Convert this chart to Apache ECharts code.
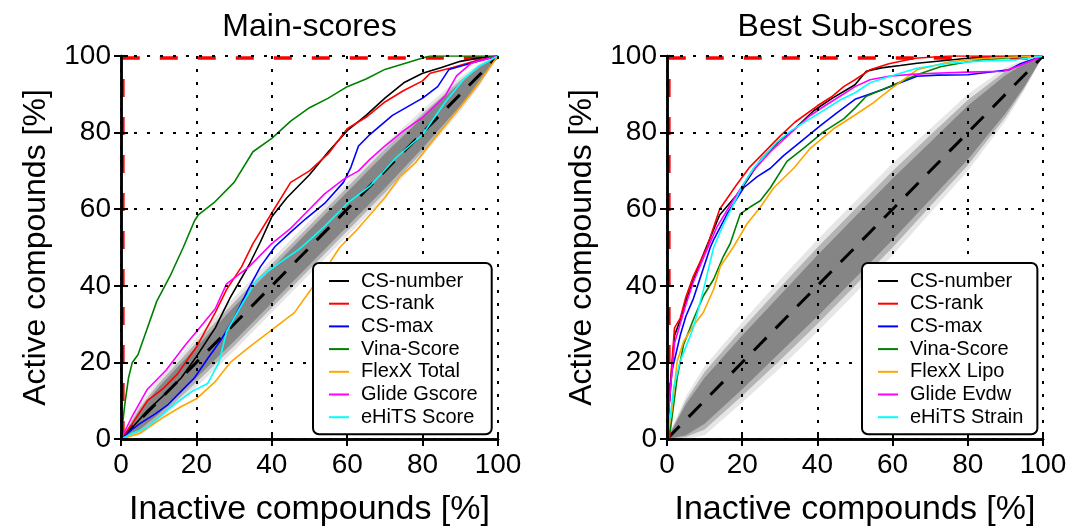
<!DOCTYPE html>
<html>
<head>
<meta charset="utf-8">
<script src="https://cdn.jsdelivr.net/npm/echarts@6/dist/echarts.min.js"></script>
<style>
html, body { margin: 0; padding: 0; background: #fff; }
#main { width: 1075px; height: 532px; }
</style>
</head>
<body>
<div id="main"></div>
<script>
// ROC curves, values in percent

// left panel: main scores
var mainNames = ["CS-number", "CS-rank", "CS-max", "Vina-Score", "FlexX Total", "Glide Gscore", "eHiTS Score"];
var blackLX = [0, 3, 7, 12, 16, 20, 25, 29, 34, 37, 40, 44, 50, 55, 60, 65, 70, 75, 80, 85, 90, 95, 100];
var blackLY = [0, 3, 7.4, 12, 16, 21.5, 29, 37, 45.5, 51.5, 58, 63, 69, 75, 80.5, 84.5, 89, 93, 95.5, 97, 98.6, 99.5, 100];
var redLX = [0, 3, 7, 11, 15, 20, 25, 28, 32, 35, 40, 45, 50, 55, 60, 65, 70, 75, 80, 82, 88, 95, 100];
var redLY = [0, 4, 10, 13, 17, 24, 33, 39, 45, 51, 59, 67, 70, 74.5, 81, 84, 88, 91, 93.5, 95.5, 97, 99, 100];
var blueLX = [0, 2, 5, 9, 12.5, 16, 19.5, 23, 26.6, 30, 33.7, 37, 40.8, 45, 49, 54, 59, 61, 63, 66, 72, 80, 84, 87, 93, 100];
var blueLY = [0, 1.8, 4, 6.5, 9, 12.5, 16, 21, 26, 31.5, 39, 45, 50.2, 54, 57.5, 61.5, 67, 71, 76.5, 79.5, 84.5, 89, 92, 96.5, 98.2, 100];
var greenLX = [0, 1, 2, 3, 4.5, 7, 9.5, 13, 16.5, 19.5, 20.5, 25, 30, 35, 40, 45, 50, 55, 60, 65, 70, 75, 80, 82, 100];
var greenLY = [0, 9, 16, 20, 22, 29, 36, 42.5, 50, 57, 58.5, 62, 67, 75, 78.5, 83, 86.5, 89, 92, 94, 96.5, 98, 99.5, 100, 100];
var orangeLX = [0, 5, 11, 16, 20, 25, 29, 34, 38, 42, 46, 50, 54, 58, 62, 66, 70, 74, 78, 82, 87, 93, 100];
var orangeLY = [0, 1.5, 5.5, 8.5, 10.5, 15, 20, 24, 27, 30, 33, 38.5, 44, 50, 54, 58.5, 63, 68.5, 72, 77, 83, 90.5, 100];
var magentaLX = [0, 3, 7, 12, 17, 20, 25, 28, 34, 40, 45, 49, 54, 59, 63, 66, 70, 75, 80, 86, 89, 93, 100];
var magentaLY = [0, 6, 13, 18, 24.5, 28, 34, 40.5, 45, 51, 55, 59, 64, 67.8, 70, 73, 76.5, 80.5, 84, 89.6, 94.8, 98.2, 100];
var cyanLX = [0, 3, 7, 14, 19, 23, 26, 28, 32, 36, 42, 47, 49, 54, 60, 66, 73, 80, 86, 91, 95, 100];
var cyanLY = [0, 1.5, 3, 9, 12.5, 14.5, 20, 28, 35, 41.5, 46, 49.4, 51, 55.5, 61.5, 66, 73.5, 79.5, 88, 94, 97.4, 100];

// right panel: best sub-scores
var subNames = ["CS-number", "CS-rank", "CS-max", "Vina-Score", "FlexX Lipo", "Glide Evdw", "eHiTS Strain"];
var blackRX = [0, 0.5, 1, 2, 3.5, 5, 7, 10, 14, 19.5, 25, 30, 34, 39, 44, 50, 53, 57, 62, 66.5, 80, 90, 100];
var blackRY = [0, 9, 15, 27, 31, 36, 41.5, 49, 58.5, 64.8, 73, 78, 81, 85.7, 89, 92.5, 96, 96.9, 97.5, 98.1, 99.4, 99.8, 100];
var redRX = [0, 0.5, 1, 2, 3.5, 5, 7, 10.6, 14, 18.6, 22, 25, 30, 34, 40, 44, 47, 50, 54, 59, 66, 75, 100];
var redRY = [0, 10, 16, 29, 31.5, 37, 42.5, 50, 60, 66.5, 71, 74, 79, 82.7, 87, 89.5, 92, 93.8, 96.4, 98, 99.4, 100, 100];
var blueRX = [0, 0.5, 1.3, 3.5, 5, 7, 11.5, 12.4, 16, 20.4, 24, 27.5, 31, 35.5, 40.8, 45, 50, 57.6, 62, 66.5, 72, 80, 91, 94, 100];
var blueRY = [0, 8, 17.7, 27, 32, 36.6, 50, 52, 58.8, 65.6, 68.5, 70.7, 74, 77.6, 81.8, 85, 88.7, 91.3, 93, 94.7, 95, 95.1, 96.4, 98, 100];
var greenRX = [0, 0.9, 2.7, 4.4, 7.1, 9.7, 12.4, 15, 16.8, 19.5, 22, 24.8, 27.5, 31.9, 36.3, 41.6, 47, 50, 53, 59.4, 66.5, 72.7, 80, 90, 100];
var greenRY = [0, 2.4, 16, 24.6, 31.4, 37.4, 41.7, 47.7, 51, 58.8, 60.5, 62.2, 65.6, 72.5, 75.9, 80.2, 83.6, 86.4, 89.5, 92.1, 95.1, 97.2, 98.5, 99.5, 100];
var orangeRX = [0, 1.3, 2.7, 4.4, 7.1, 9.7, 12.4, 14.2, 17.7, 21.3, 24.8, 28.4, 33.7, 38.1, 44.3, 50, 54.9, 59.4, 66.5, 75.3, 84, 100];
var orangeRY = [0, 7.5, 20.3, 25.4, 29.7, 33.1, 39.1, 45.1, 50.2, 56.2, 60.5, 65.6, 70.7, 75.9, 81, 84.6, 87.8, 91.3, 96.4, 98.5, 99.4, 100];
var magentaRX = [0, 0.5, 1, 2, 3.5, 5, 7, 10, 13.3, 18, 22, 27.5, 33, 38, 42, 46, 50, 54, 59, 65, 71, 80, 89.5, 93, 100];
var magentaRY = [0, 8, 14, 25, 30, 35, 41, 48, 55.4, 63, 69, 75, 80, 84.4, 87, 89.5, 92, 93.8, 94.7, 95.2, 95.5, 95.8, 96, 97.2, 100];
var cyanRX = [0, 1, 1.8, 3.5, 5, 7, 9.7, 12.4, 15, 17.7, 20, 23, 26, 29.3, 33, 38, 42, 46, 50, 54, 59.4, 66.5, 75, 85, 93, 100];
var cyanRY = [0, 7, 13.5, 20.3, 24, 29, 39, 50, 56, 61.3, 66, 70.7, 74, 77.6, 80.5, 83.6, 86, 88.5, 90.4, 93, 94.7, 96.8, 98.1, 98.8, 99, 100];

// random-ranking spread (grey band) around the diagonal: lower / upper edges
var bandX = [0, 5, 10, 20, 30, 40, 50, 60, 70, 80, 90, 95, 100];
var darkLLo = [0, 2.5, 6.5, 16, 25.5, 35.5, 45.5, 55.5, 65.5, 76, 87, 93, 100];
var darkLHi = [0, 7.5, 13.5, 24, 34.5, 44.5, 54.5, 64.5, 74.5, 84, 93, 97, 100];
var midLLo = [0, 1.8, 5.5, 14.8, 24.3, 34.3, 44.3, 54.3, 64.3, 75, 86.3, 92.5, 100];
var midLHi = [0, 8.2, 14.5, 25.2, 35.7, 45.7, 55.7, 65.7, 75.7, 85, 93.7, 97.5, 100];
var lightLLo = [0, 1, 4.5, 13.5, 23, 33, 43, 53, 63, 74, 85.5, 92, 100];
var lightLHi = [0, 9, 15.5, 26.5, 37, 47, 57, 67, 77, 86, 94.5, 98, 100];
var darkRLo = [0, 1, 4, 13, 22.5, 32, 42, 52, 62.5, 73, 85, 92, 100];
var darkRHi = [0, 9, 16, 27, 37.5, 48, 58, 68, 77.5, 87, 95, 98, 100];
var midRLo = [0, 0.5, 2.5, 11.3, 20.5, 30, 40, 50, 60.8, 71.5, 84, 91.5, 100];
var midRHi = [0, 10, 17.5, 28.8, 39.5, 50, 60, 70, 79.3, 88.5, 96, 98.5, 100];
var lightRLo = [0, 0, 1, 9.5, 18.5, 28, 38, 48, 59, 70, 83, 91, 100];
var lightRHi = [0, 11, 19, 30.5, 41.5, 52, 62, 72, 81, 90, 97, 99, 100];

var diagX = [0, 100];
var diagY = [0, 100];
var perfectX = [0.5, 0.5, 100];
var perfectY = [0, 99.5, 99.5];

var colors = ["#000000", "#ff0000", "#0000ff", "#008000", "#ffa500", "#ff00ff", "#00ffff"];
var font = "Liberation Sans";

function pairs(xs, ys) {
    return xs.map(function (x, i) { return [x, ys[i]]; });
}

function curve(name, xs, ys, color, ax) {
    return {
        name: name, type: "line", xAxisIndex: ax, yAxisIndex: ax,
        data: pairs(xs, ys), symbol: "none", showSymbol: false,
        lineStyle: {color: color, width: 1.6}, itemStyle: {color: color},
        z: 2
    };
}

// grey band as a polygon: upper edge forward, lower edge back
function band(lo, hi, color, ax) {
    var outline = pairs(bandX, hi).concat(pairs(bandX, lo).reverse());
    return {
        type: "custom", xAxisIndex: ax, yAxisIndex: ax, silent: true, z: 1,
        data: [[0, 0]],
        renderItem: function (params, api) {
            var pts = outline.map(function (p) { return api.coord(p); });
            return {type: "polygon", shape: {points: pts}, style: {fill: color}};
        }
    };
}

function refLines(ax) {
    return [
        {type: "line", xAxisIndex: ax, yAxisIndex: ax, data: pairs(diagX, diagY), symbol: "none",
            lineStyle: {color: "#000", width: 3, type: [18, 13]}, silent: true, z: 1},
        {type: "line", xAxisIndex: ax, yAxisIndex: ax, data: pairs(perfectX, perfectY), symbol: "none",
            lineStyle: {color: "#ff0000", width: 3.5, type: [18, 20]}, silent: true, z: 2}
    ];
}

function bottomAxis(grid, name) {
    return {
        type: "value", gridIndex: grid, position: "bottom", min: 0, max: 100, interval: 20, z: 3,
        name: name, nameLocation: "middle", nameGap: 54,
        nameTextStyle: {fontFamily: font, fontSize: 34, color: "#000"},
        axisLine: {lineStyle: {color: "#000", width: 2.5}},
        axisTick: {inside: true, length: 7, lineStyle: {color: "#000", width: 2}},
        axisLabel: {fontFamily: font, fontSize: 28, color: "#000", margin: 12},
        splitLine: {show: true, lineStyle: {color: "#000", width: 2, type: [3, 10]}}
    };
}

function topAxis(grid, title) {
    return {
        type: "value", gridIndex: grid, position: "top", min: 0, max: 100, interval: 20, z: 3,
        name: title, nameLocation: "middle", nameGap: 13,
        nameTextStyle: {fontFamily: font, fontSize: 32, color: "#000"},
        axisLine: {lineStyle: {color: "#000", width: 2.5}},
        axisTick: {inside: true, length: 7, lineStyle: {color: "#000", width: 2}},
        axisLabel: {show: false}, splitLine: {show: false}
    };
}

function leftAxis(grid, name) {
    return {
        type: "value", gridIndex: grid, position: "left", min: 0, max: 100, interval: 20, z: 3,
        name: name, nameLocation: "middle", nameGap: 69,
        nameTextStyle: {fontFamily: font, fontSize: 32, color: "#000"},
        axisLine: {lineStyle: {color: "#000", width: 2.5}},
        axisTick: {inside: true, length: 7, lineStyle: {color: "#000", width: 2}},
        axisLabel: {fontFamily: font, fontSize: 28, color: "#000", margin: 10},
        splitLine: {show: true, lineStyle: {color: "#000", width: 2, type: [3, 10]}}
    };
}

function rightAxis(grid) {
    return {
        type: "value", gridIndex: grid, position: "right", min: 0, max: 100, interval: 20, z: 3,
        axisLine: {lineStyle: {color: "#000", width: 2.5}},
        axisTick: {inside: true, length: 7, lineStyle: {color: "#000", width: 2}},
        axisLabel: {show: false}, splitLine: {show: false}
    };
}

function legendBox(names, left) {
    return {
        data: names, orient: "vertical", left: left, top: 263,
        icon: "rect", itemWidth: 20, itemHeight: 2, itemGap: 0.7, selectedMode: false,
        padding: [7, 14, 6, 16],
        backgroundColor: "#fff", borderColor: "#000", borderWidth: 2, borderRadius: 6,
        textStyle: {fontFamily: font, fontSize: 20, color: "#000", lineHeight: 22, padding: [0, 0, 0, 7]}
    };
}

var leftCurves = [
    [blackLX, blackLY], [redLX, redLY], [blueLX, blueLY], [greenLX, greenLY],
    [orangeLX, orangeLY], [magentaLX, magentaLY], [cyanLX, cyanLY]
];
var rightCurves = [
    [blackRX, blackRY], [redRX, redRY], [blueRX, blueRY], [greenRX, greenRY],
    [orangeRX, orangeRY], [magentaRX, magentaRY], [cyanRX, cyanRY]
];

var series = [
    band(lightLLo, lightLHi, "#e6e6e6", 0),
    band(midLLo, midLHi, "#b4b4b4", 0),
    band(darkLLo, darkLHi, "#858585", 0),
    band(lightRLo, lightRHi, "#e6e6e6", 2),
    band(midRLo, midRHi, "#b4b4b4", 2),
    band(darkRLo, darkRHi, "#858585", 2)
];
series = series.concat(refLines(0), refLines(2));
leftCurves.forEach(function (c, i) { series.push(curve(mainNames[i], c[0], c[1], colors[i], 0)); });
rightCurves.forEach(function (c, i) { series.push(curve(subNames[i], c[0], c[1], colors[i], 2)); });

var option = {
    animation: false,
    backgroundColor: "#fff",
    grid: [
        {left: 121, top: 56, width: 377, height: 389},
        {left: 667, top: 56, width: 376, height: 390}
    ],
    xAxis: [
        bottomAxis(0, "Inactive compounds [%]"), topAxis(0, "Main-scores"),
        bottomAxis(1, "Inactive compounds [%]"), topAxis(1, "Best Sub-scores")
    ],
    yAxis: [
        leftAxis(0, "Active compounds [%]"), rightAxis(0),
        leftAxis(1, "Active compounds [%]"), rightAxis(1)
    ],
    legend: [legendBox(mainNames, 313), legendBox(subNames, 862)],
    series: series
};

var myChart = echarts.init(document.getElementById("main"));
myChart.setOption(option);
</script>
</body>
</html>
